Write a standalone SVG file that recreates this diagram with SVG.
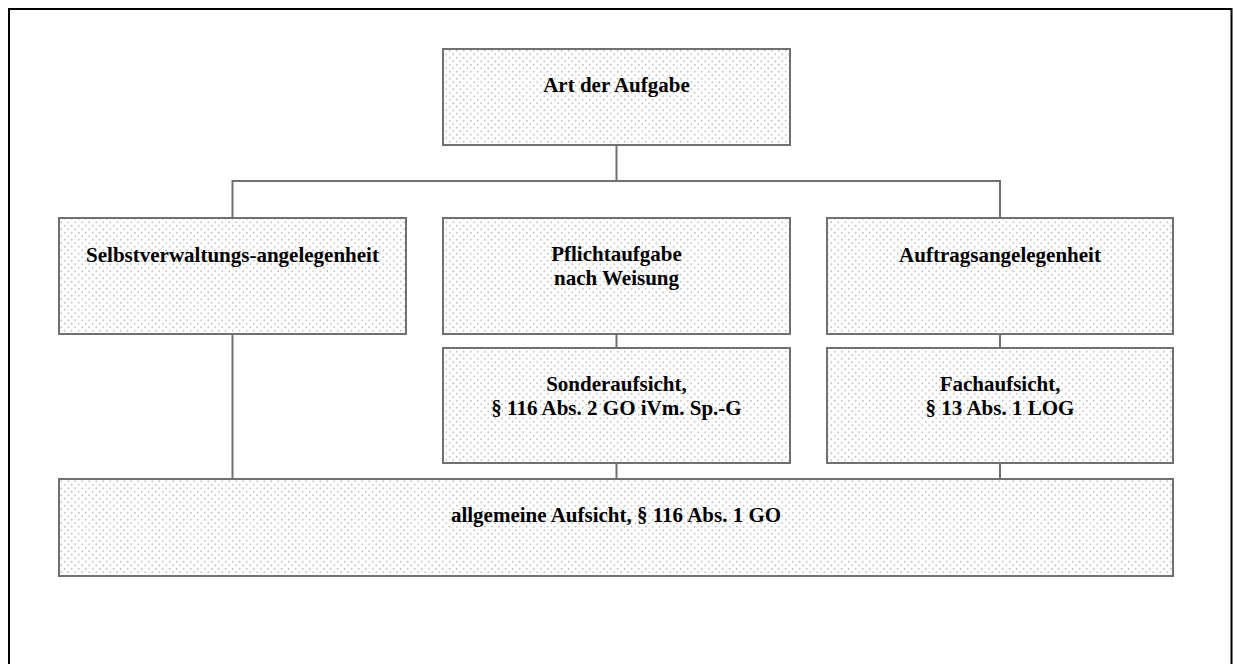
<svg xmlns="http://www.w3.org/2000/svg" width="1235" height="664" viewBox="0 0 1235 664">
  <defs>
    <!-- fine stippled fill used in every box -->
    <pattern id="dots" width="7" height="7" patternUnits="userSpaceOnUse">
      <rect width="7" height="7" fill="#ffffff"/>
      <circle cx="1.75" cy="1.75" r="0.9" fill="#c4c4c4"/>
      <circle cx="5.25" cy="5.25" r="0.9" fill="#c4c4c4"/>
    </pattern>
    <style>
      .box { fill: url(#dots); stroke: #707070; stroke-width: 2; }
      .lbl { font-family: "Liberation Serif", "Times New Roman", serif; font-weight: bold; font-size: 21px; fill: #000; text-anchor: middle; }
      .conn { fill: none; stroke: #707070; stroke-width: 2; }
    </style>
  </defs>

  <rect width="1235" height="664" fill="#ffffff"/>
  <!-- page frame, open at the bottom -->
  <path d="M9 670 V9 H1231.5 V670" fill="none" stroke="#000" stroke-width="2"/>

  <g id="connectors">
    <path class="conn" d="M616.5 145 V181 M232.5 218 V181 H1000 V218"/>
    <path class="conn" d="M232.5 334 V479"/>
    <path class="conn" d="M616.5 334 V348 M616.5 463 V479"/>
    <path class="conn" d="M1000 334 V348 M1000 463 V479"/>
  </g>

  <g id="art-der-aufgabe">
    <rect class="box" x="443" y="49" width="347" height="96"/>
    <text class="lbl" x="616.5" y="92">Art der Aufgabe</text>
  </g>

  <g id="selbstverwaltung">
    <rect class="box" x="59" y="218" width="347" height="116"/>
    <text class="lbl" x="232.5" y="262">Selbstverwaltungs-angelegenheit</text>
  </g>

  <g id="pflichtaufgabe">
    <rect class="box" x="443" y="218" width="347" height="116"/>
    <text class="lbl" x="616.5" y="261">Pflichtaufgabe</text>
    <text class="lbl" x="616.5" y="285">nach Weisung</text>
  </g>

  <g id="auftragsangelegenheit">
    <rect class="box" x="827" y="218" width="346" height="116"/>
    <text class="lbl" x="1000" y="262">Auftragsangelegenheit</text>
  </g>

  <g id="sonderaufsicht">
    <rect class="box" x="443" y="348" width="347" height="115"/>
    <text class="lbl" x="616.5" y="391">Sonderaufsicht,</text>
    <text class="lbl" x="616.5" y="415">§ 116 Abs. 2 GO iVm. Sp.-G</text>
  </g>

  <g id="fachaufsicht">
    <rect class="box" x="827" y="348" width="346" height="115"/>
    <text class="lbl" x="1000" y="391">Fachaufsicht,</text>
    <text class="lbl" x="1000" y="415">§ 13 Abs. 1 LOG</text>
  </g>

  <g id="allgemeine-aufsicht">
    <rect class="box" x="59" y="479" width="1114" height="97"/>
    <text class="lbl" x="616" y="522">allgemeine Aufsicht, § 116 Abs. 1 GO</text>
  </g>
</svg>
